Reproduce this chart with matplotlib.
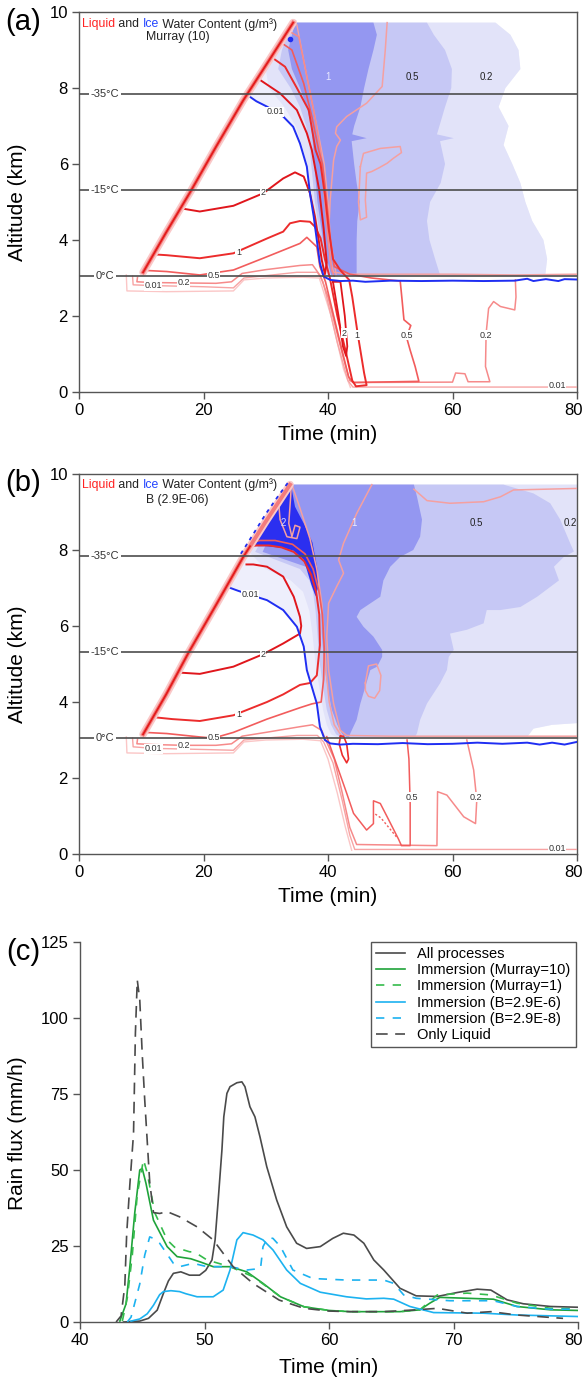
import numpy as np
import matplotlib
matplotlib.use("Agg")
import matplotlib.pyplot as plt
from matplotlib.transforms import offset_copy, ScaledTranslation

plt.rcParams['font.family'] = ['Liberation Sans', 'DejaVu Sans']

# ====================== DATA ======================
TEMP_ALT = [7.83, 5.32, 3.05]
TEMP_LABELS = ['-35°C', '-15°C', '0°C']

# ---------- panel (a): Murray (10) ----------
A_DIAG_T = [10.3, 14.0, 18.0, 22.0, 26.4, 30.5, 34.4]
A_DIAG_Z = [3.15, 4.2, 5.3, 6.45, 7.68, 8.72, 9.72]

A_ICE_LZ = [9.72, 9.0, 8.5, 8.0, 7.5, 7.0, 6.5, 6.0, 5.0, 4.0, 3.5, 3.08]
A_ICE02_LT = [34.0, 32.0, 30.0, 30.5, 33.0, 34.8, 35.8, 36.6, 37.3, 38.3, 38.9, 39.6]
A_ICE05_LT = [34.2, 32.6, 32.0, 34.0, 35.5, 36.5, 37.0, 37.3, 37.9, 38.8, 39.4, 40.0]
A_ICE1_LT = [34.7, 33.6, 34.2, 35.5, 36.6, 37.3, 37.6, 37.8, 38.3, 39.2, 39.8, 40.5]
A_ICE001_LT = [34.4, 30.5, 27.0, 28.5, 30.2, 32.8, 34.4, 35.5, 36.6, 37.1, 37.7, 38.2, 38.7, 39.3, 40.3]
A_ICE001_LZ = [9.72, 8.72, 7.82, 7.65, 7.51, 7.25, 6.98, 6.54, 5.93, 5.23, 4.62, 4.0, 3.39, 3.06, 3.06]

A_ICE1_RZ = [3.08, 3.5, 4.0, 4.5, 5.0, 5.5, 6.0, 6.6, 6.68, 6.78, 7.0, 7.5, 8.0, 8.5, 9.0, 9.4, 9.72]
A_ICE1_RT = [44.6, 44.6, 44.6, 44.7, 45.1, 44.6, 44.2, 43.8, 46.2, 43.9, 44.2, 45.2, 45.8, 46.5, 47.3, 47.85, 47.3]
A_ICE05_RZ = [3.08, 3.5, 4.0, 4.5, 5.0, 5.5, 6.0, 6.6, 6.68, 6.78, 7.0, 7.5, 8.0, 8.5, 9.0, 9.4, 9.72]
A_ICE05_RT = [58.0, 57.2, 56.3, 55.9, 56.4, 58.1, 58.8, 58.0, 60.2, 57.5, 57.9, 58.8, 59.8, 59.9, 58.8, 57.0, 55.9]
A_ICE02_RZ = [3.08, 3.5, 4.0, 4.5, 5.0, 5.5, 6.0, 6.5, 7.0, 7.5, 8.0, 8.5, 9.0, 9.4, 9.72]
A_ICE02_RT = [74.9, 75.2, 74.6, 72.8, 71.7, 70.9, 69.6, 68.2, 69.0, 67.4, 68.5, 70.9, 70.6, 69.3, 66.9]

A_ICE_LINE_T = [27.0, 28.5, 30.2, 32.8, 34.4, 35.5, 36.6, 37.1, 37.7, 38.2, 38.7, 39.3, 40.35,
                42.0, 44.0, 46.0, 50.0, 55.0, 60.0, 65.0, 70.0, 72.0, 73.0, 75.0, 77.0, 78.0, 80.0]
A_ICE_LINE_Z = [7.82, 7.65, 7.51, 7.25, 6.98, 6.54, 5.93, 5.23, 4.62, 4.0, 3.39, 3.04, 2.95,
                2.92, 2.93, 2.9, 2.93, 2.92, 2.93, 2.92, 2.93, 2.98, 2.92, 2.97, 2.92, 2.97, 2.96]
A_ICE_EDGE_T = [30.6, 32.5, 34.8]
A_ICE_EDGE_Z = [8.85, 9.3, 9.78]

A_L2_T = [16.5, 19.4, 24.8, 29.6, 32.8, 34.7, 36.1, 37.1, 37.9, 38.5, 39.0, 39.5, 39.8, 39.3, 38.6,
          37.4, 36.6, 35.0, 32.3, 29.1]
A_L2_Z = [4.83, 4.75, 4.9, 5.23, 5.62, 5.78, 5.67, 5.23, 4.62, 4.0, 3.47, 3.1, 3.4, 4.3, 5.3,
          6.37, 6.81, 7.42, 7.86, 8.21]
A_L2R_T = [40.8, 41.7, 42.4, 42.9, 43.1, 42.7, 42.0, 40.8]
A_L2R_Z = [2.9, 2.0, 1.2, 0.95, 1.2, 2.0, 2.9, 2.9]
A_L1_T = [12.2, 14.1, 19.4, 24.8, 30.2, 32.8, 33.9, 35.5, 37.1, 37.9, 38.8, 39.5, 40.3, 41.5, 42.8,
          43.9, 44.5, 46.2, 45.8, 44.8, 43.9, 43.4, 42.0, 40.8, 40.1, 39.5, 38.8, 38.0, 36.9, 35.0,
          33.1, 31.2]
A_L1_Z = [3.62, 3.6, 3.52, 3.65, 4.04, 4.22, 4.44, 4.5, 4.48, 4.35, 4.05, 3.5, 3.0, 2.0, 1.1,
          0.3, 0.15, 0.18, 0.5, 1.5, 2.5, 2.95, 3.2, 3.5, 4.3, 5.2, 6.0, 6.37, 7.42, 8.0,
          8.56, 8.78]
A_L05_T = [10.6, 14.1, 19.4, 24.8, 30.2, 35.5, 36.6, 38.2, 38.7, 39.6, 41.5, 43.3, 44.0, 54.6, 54.0,
           53.2, 52.6, 53.3, 52.2, 51.9, 51.6, 47.0, 43.5, 41.0, 40.4, 39.8, 39.1, 38.5, 37.4, 36.1,
           34.2, 32.6]
A_L05_Z = [3.2, 3.17, 3.08, 3.21, 3.56, 3.91, 4.07, 3.82, 3.3, 2.9, 1.6, 0.4, 0.25, 0.28, 0.67,
           1.1, 1.45, 1.75, 1.9, 2.42, 2.92, 3.0, 3.1, 3.3, 4.0, 5.0, 6.0, 6.37, 7.25, 8.12,
           9.0, 9.18]
A_L02_T = [9.4, 9.3, 12.0, 16.8, 22.0, 24.5, 26.2, 30.0, 35.5, 37.5, 38.8, 40.0, 42.3, 43.5, 44.2,
           60.0, 60.5, 62.0, 62.5, 66.0, 65.3, 65.4, 65.8, 66.6, 67.7, 70.0, 70.2, 70.1]
A_L02_Z = [3.02, 2.9, 2.88, 2.87, 2.86, 2.9, 3.12, 3.22, 3.33, 3.35, 3.05, 2.5, 1.0, 0.3, 0.25,
           0.26, 0.5, 0.48, 0.27, 0.27, 0.67, 1.54, 2.2, 2.38, 2.25, 2.16, 2.5, 2.95]
A_L001_T = [8.6, 8.7, 12.0, 20.0, 24.8, 26.5, 35.0, 38.3, 39.2, 41.5, 43.2, 44.0, 60.0, 80.0]
A_L001_Z = [3.05, 2.82, 2.8, 2.77, 2.74, 3.0, 3.15, 3.15, 2.9, 1.3, 0.3, 0.13, 0.13, 0.13]
A_LLOW_T = [7.6, 7.7, 14.0, 24.8, 26.5, 30.0, 36.0, 38.6, 40.5, 42.5, 43.6]
A_LLOW_Z = [3.08, 2.66, 2.64, 2.66, 2.95, 3.0, 3.02, 3.0, 2.0, 0.6, 0.12]
A_PD_T = [33.9, 35.3, 36.3, 37.7, 38.8, 39.5, 40.0, 40.6, 41.0]
A_PD_Z = [9.48, 9.35, 8.56, 7.42, 6.37, 5.0, 4.0, 3.2, 3.05]
A_PE_T = [35.0, 36.6, 38.2, 39.4, 40.0, 40.4, 41.3]
A_PE_Z = [9.66, 8.3, 7.0, 6.0, 5.0, 4.0, 3.1]
A_P1_T = [49.5, 49.2, 48.7, 46.2, 43.0, 41.4, 41.2, 42.0, 41.4, 40.9, 40.35, 40.1, 40.35, 40.9, 43.5,
          50.0, 60.0, 70.0, 80.0]
A_P1_Z = [9.72, 9.0, 8.04, 7.6, 7.25, 6.98, 6.81, 6.63, 6.46, 6.1, 5.05, 4.18, 3.47, 3.15, 3.1,
          3.1, 3.1, 3.08, 3.1]
A_P2_T = [45.2, 45.7, 48.4, 51.6, 51.8, 50.5, 49.5, 48.2, 47.0, 46.2, 46.0, 46.2, 45.2, 44.9, 45.1, 45.2]
A_P2_Z = [5.93, 6.28, 6.41, 6.46, 6.3, 6.15, 6.02, 5.9, 5.8, 5.76, 5.05, 4.6, 4.53, 5.0, 5.6, 5.93]

A_LINE_LABELS = ['0.01', '2', '1', '0.5', '0.2', '0.01', '2', '1', '0.5', '0.2', '0.01']
A_LINE_LAB_T = [31.5, 29.6, 25.6, 21.6, 16.8, 11.9, 42.6, 44.7, 52.7, 65.3, 76.8]
A_LINE_LAB_Z = [7.38, 5.24, 3.67, 3.06, 2.87, 2.8, 1.55, 1.5, 1.5, 1.5, 0.16]
A_ICE_LABELS = ['1', '0.5', '0.2']
A_ICE_LAB_T = [40.0, 53.6, 65.5]
A_ICE_LAB_Z = [8.3, 8.3, 8.3]

# ---------- panel (b): B (2.9E-06) ----------
B_DIAG_T = [10.3, 14.0, 17.6, 22.0, 26.4, 30.0, 33.9]
B_DIAG_Z = [3.15, 4.2, 5.3, 6.55, 7.82, 8.75, 9.72]
B_EDGE_T = [26.0, 28.0, 30.0, 32.0, 33.7]
B_EDGE_Z = [7.9, 8.42, 8.95, 9.42, 9.8]

B_ICE_LZ = [9.72, 8.8, 7.95, 7.5, 7.2, 6.9, 6.4, 5.8, 5.0, 4.4, 3.8, 3.4, 3.15, 3.08]
B_ICE02_LT = [34.0, 30.6, 27.3, 30.0, 34.0, 36.0, 37.0, 37.5, 38.0, 38.6, 39.2, 39.8, 40.5, 41.3]
B_ICE05_LT = [34.2, 31.2, 28.3, 35.5, 37.0, 37.6, 38.0, 38.3, 38.7, 39.2, 39.8, 40.5, 41.3, 42.0]
B_ICE1_LT = [34.4, 31.8, 29.5, 37.5, 38.3, 38.6, 38.9, 39.0, 39.4, 39.9, 40.6, 41.5, 42.3, 43.0]
B_ICE001_LT = [33.9, 30.0, 26.4, 24.0, 25.5, 27.5, 30.2, 32.8, 35.0, 36.1, 36.6, 37.4, 38.2, 38.7, 39.5, 40.35]
B_ICE001_LZ = [9.72, 8.75, 7.82, 7.02, 6.93, 6.82, 6.68, 6.42, 5.98, 5.46, 4.84, 4.4, 3.96, 3.35, 3.06, 3.06]
B_ICE02_RZ = [3.08, 3.3, 3.4, 3.45, 9.72]
B_ICE02_RT = [72.0, 73.0, 76.0, 80.5, 80.5]
B_ICE05_RZ = [3.08, 3.18, 3.53, 3.96, 4.49, 4.84, 5.19, 5.37, 5.8, 5.9, 6.07, 6.42, 6.42, 6.5, 6.77,
              7.2, 7.56, 7.82, 7.96, 8.18, 8.8, 9.23, 9.49, 9.72]
B_ICE05_RT = [54.0, 54.3, 54.8, 55.9, 58.0, 59.1, 59.4, 60.2, 59.6, 62.3, 65.0, 65.5, 67.7, 70.9, 73.6,
              77.1, 76.3, 77.9, 79.5, 78.9, 77.3, 75.7, 73.0, 68.2]
B_ICE1_RZ = [3.08, 3.18, 3.53, 3.96, 4.4, 4.84, 4.93, 5.19, 5.37, 5.72, 5.98, 6.24, 6.42, 6.77, 7.2,
             7.56, 7.82, 8.0, 8.35, 8.8, 9.4, 9.72]
B_ICE1_RT = [43.4, 43.6, 44.6, 45.2, 46.0, 46.8, 47.9, 48.7, 48.7, 47.3, 45.7, 44.6, 45.2, 48.4, 48.9,
             50.0, 51.6, 53.7, 54.8, 55.1, 54.3, 53.8]
B_ICE2_T = [33.8, 34.2, 34.7, 36.1, 37.5, 38.3, 38.4, 38.0, 37.3, 36.1, 34.5, 33.0, 30.0, 28.0, 27.3,
            29.0, 31.0, 32.5]
B_ICE2_Z = [9.72, 9.58, 9.14, 8.7, 8.2, 7.5, 7.0, 6.78, 7.1, 7.75, 7.98, 8.05, 8.1, 8.1, 7.95,
            8.45, 9.0, 9.4]

B_ICE_LINE_T = [24.0, 25.5, 27.5, 30.2, 32.8, 35.0, 36.1, 36.6, 37.4, 38.2, 38.7, 39.5, 40.35, 42.0,
                44.0, 48.0, 52.0, 56.0, 60.0, 64.0, 68.0, 72.0, 74.0, 76.0, 78.0, 80.0]
B_ICE_LINE_Z = [7.02, 6.93, 6.82, 6.68, 6.42, 5.98, 5.46, 4.84, 4.4, 3.96, 3.35, 3.0, 2.91, 2.88,
                2.9, 2.89, 2.92, 2.89, 2.9, 2.93, 2.9, 2.93, 2.88, 2.93, 2.88, 2.95]

B_L2_T = [16.5, 19.4, 24.8, 29.6, 32.8, 35.5, 35.7, 35.5, 34.5, 32.8, 30.2, 28.0, 26.9]
B_L2_Z = [4.77, 4.74, 4.93, 5.26, 5.54, 5.8, 6.0, 6.24, 6.77, 7.3, 7.56, 7.62, 7.62]
B_L1_T = [12.0, 15.0, 19.4, 24.8, 30.2, 32.8, 35.5, 37.1, 38.2, 38.7, 38.6, 38.1, 37.3, 36.2, 34.5,
          32.5, 30.5, 28.5, 27.6]
B_L1_Z = [3.6, 3.55, 3.5, 3.65, 4.0, 4.2, 4.45, 4.5, 4.7, 5.5, 6.3, 6.9, 7.35, 7.7, 7.95,
          8.07, 8.12, 8.12, 8.1]
B_L05_T = [10.6, 14.1, 19.4, 21.6, 24.8, 30.2, 35.5, 37.4, 38.9, 39.3, 39.4, 39.1, 38.5, 37.6, 36.3,
           34.3, 31.5, 29.0, 27.8]
B_L05_Z = [3.2, 3.17, 3.08, 3.05, 3.2, 3.55, 3.85, 3.95, 4.0, 4.6, 5.4, 6.3, 6.95, 7.5, 7.9,
           8.15, 8.25, 8.25, 8.2]
B_L05R_T = [39.8, 41.5, 43.0, 44.1, 46.2, 47.3, 47.3, 48.4, 49.5, 51.3, 51.8, 53.2, 53.2, 53.0, 52.7]
B_L05R_Z = [3.09, 2.3, 1.6, 1.07, 0.63, 0.8, 1.4, 1.33, 0.98, 0.4, 0.22, 0.22, 1.33, 2.5, 3.0]
B_L02_T = [9.4, 9.3, 12.0, 16.8, 22.0, 24.5, 26.2, 30.0, 35.5, 37.5, 39.0, 39.5, 41.0, 42.3, 43.5,
           44.6, 57.5, 57.6, 59.1, 61.8, 63.7, 63.9, 63.4, 62.3]
B_L02_Z = [3.02, 2.9, 2.88, 2.86, 2.86, 2.9, 3.1, 3.2, 3.35, 3.4, 3.25, 3.05, 2.5, 1.6, 0.7,
           0.25, 0.22, 1.64, 1.55, 0.98, 0.8, 1.42, 2.21, 3.0]
B_L001_T = [8.6, 8.7, 12.0, 20.0, 24.8, 26.5, 35.0, 38.3, 39.3, 40.8, 42.3, 43.5, 44.3, 60.0, 80.0]
B_L001_Z = [3.05, 2.82, 2.78, 2.75, 2.73, 3.0, 3.12, 3.12, 2.95, 2.4, 1.4, 0.5, 0.12, 0.12, 0.12]
B_LLOW_T = [7.6, 7.7, 14.0, 24.8, 26.5, 30.0, 36.0, 38.8, 40.0, 41.5, 42.8, 43.8]
B_LLOW_Z = [3.08, 2.66, 2.64, 2.66, 2.95, 3.0, 3.02, 2.98, 2.5, 1.6, 0.7, 0.1]
B_LOOP1_T = [42.0, 41.8, 42.3, 43.0, 43.3, 43.0, 42.5, 42.0]
B_LOOP1_Z = [3.1, 2.9, 2.6, 2.4, 2.5, 2.9, 3.1, 3.1]
B_DOT_T = [47.6, 48.5, 49.5, 50.5, 51.0]
B_DOT_Z = [1.05, 0.95, 0.75, 0.55, 0.45]
B_P1_T = [47.05, 44.6, 42.5, 41.7, 42.5, 41.4, 40.1, 39.8, 40.1, 40.9, 41.95, 43.0, 50.0, 60.0, 70.0, 80.0]
B_P1_Z = [9.72, 8.96, 8.18, 7.74, 7.39, 7.04, 6.6, 5.72, 4.84, 3.96, 3.26, 3.12, 3.1, 3.1, 3.1, 3.1]
B_P2_T = [46.0, 46.5, 47.8, 48.5, 48.3, 47.5, 46.5, 46.0, 46.0]
B_P2_Z = [4.5, 4.95, 5.0, 4.7, 4.3, 4.1, 4.15, 4.3, 4.5]
B_PTOP_T = [53.8, 55.9, 59.6, 65.0, 67.7, 69.8, 80.0]
B_PTOP_Z = [9.6, 9.3, 9.23, 9.27, 9.4, 9.58, 9.62]
B_PFING_T = [32.0, 32.3, 33.4, 35.0, 35.5, 34.7, 34.2, 33.7, 34.0, 34.1]
B_PFING_Z = [9.4, 8.8, 8.35, 8.3, 8.6, 8.65, 8.35, 8.7, 9.4, 9.72]
B_PE1_T = [34.2, 35.5, 37.1, 38.2, 39.0, 39.4, 39.7, 40.2, 41.0, 42.2]
B_PE1_Z = [9.72, 9.1, 8.3, 7.5, 6.6, 5.7, 4.8, 4.0, 3.4, 3.1]

B_LINE_LABELS = ['0.01', '2', '1', '0.5', '0.2', '0.01', '0.5', '0.2', '0.01']
B_LINE_LAB_T = [27.5, 29.6, 25.6, 21.6, 16.8, 12.0, 53.4, 63.7, 76.8]
B_LINE_LAB_Z = [6.82, 5.25, 3.67, 3.06, 2.86, 2.77, 1.5, 1.5, 0.15]
B_ICE_LABELS = ['2', '1', '0.5', '0.2']
B_ICE_LAB_T = [32.85, 44.1, 63.9, 78.9]
B_ICE_LAB_Z = [8.7, 8.7, 8.7, 8.7]

# ---------- panel (c): rain flux ----------
C_ALL_T = [43.5, 44.8, 45.5, 46.2, 46.7, 47.1, 47.5, 48.1, 48.8, 49.6, 50.1, 50.6, 50.85, 51.1, 51.4,
           51.55, 51.8, 52.05, 52.6, 53.0, 53.25, 53.65, 54.05, 54.45, 55.0, 55.8, 56.6, 57.4, 58.2,
           59.3, 60.3, 61.15, 62.0, 62.8, 63.6, 64.4, 65.7, 67.0, 68.7, 70.3, 71.9, 73.0, 74.3, 75.6,
           77.8, 80.0]
C_ALL_V = [0.0, 0.3, 1.2, 3.9, 9.4, 13.5, 16.0, 16.5, 15.4, 15.4, 17.0, 20.4, 27.0, 40.1, 56.6,
           67.5, 75.2, 77.4, 78.7, 79.0, 77.4, 70.8, 67.5, 61.0, 51.1, 40.1, 31.3, 25.9, 24.2,
           24.8, 27.5, 29.2, 28.6, 25.9, 20.4, 17.1, 11.1, 8.6, 8.4, 9.7, 10.8, 10.5, 7.3, 6.0,
           5.1, 4.85]
C_M10_T = [43.2, 43.7, 44.0, 44.4, 44.8, 45.0, 45.3, 45.9, 47.0, 47.8, 48.9, 49.7, 50.7, 52.05, 53.4,
           54.7, 56.1, 58.0, 60.0, 61.7, 65.7, 67.3, 68.1, 68.9, 71.1, 73.2, 75.1, 77.8, 80.0]
C_M10_V = [0.3, 6.0, 18.0, 36.0, 50.0, 50.5, 45.6, 33.5, 24.8, 21.5, 20.8, 19.7, 18.2, 18.2, 16.5,
           12.7, 8.3, 5.0, 3.8, 3.4, 3.4, 4.0, 6.2, 8.1, 7.8, 7.5, 5.1, 4.0, 3.8]
C_M1_T = [43.4, 43.8, 44.2, 44.6, 45.1, 45.4, 46.0, 47.0, 47.6, 48.8, 49.2, 50.2, 52.05, 53.9, 56.1,
          58.0, 60.0, 61.7, 65.7, 67.3, 68.0, 68.7, 71.1, 73.0, 75.1, 77.8, 80.0]
C_M1_V = [0.3, 8.0, 22.0, 42.0, 53.4, 49.0, 36.0, 27.0, 24.6, 23.1, 23.0, 20.4, 18.2, 14.9, 8.3,
          5.0, 3.8, 3.4, 3.4, 4.0, 6.5, 8.9, 9.5, 8.9, 6.2, 4.5, 4.3]
C_B6_T = [44.1, 44.8, 45.4, 45.9, 46.4, 46.7, 47.3, 48.0, 48.5, 49.4, 50.7, 51.5, 52.05, 52.6, 53.1,
          53.9, 54.7, 55.5, 56.6, 57.7, 59.3, 61.4, 63.0, 64.4, 65.2, 66.5, 68.4, 72.4, 75.1, 80.0]
C_B6_V = [0.3, 1.0, 2.7, 5.5, 9.0, 10.0, 10.3, 10.0, 9.3, 8.3, 8.3, 10.5, 17.1, 27.0, 29.4,
          28.6, 27.0, 23.7, 17.1, 12.7, 9.8, 8.3, 7.6, 7.8, 7.5, 5.1, 3.1, 2.9, 2.3, 1.8]
C_B8_T = [43.8, 44.1, 44.8, 45.2, 45.6, 45.9, 46.4, 47.5, 48.0, 49.1, 50.2, 52.05, 53.4, 54.5, 54.7,
          55.1, 55.5, 56.1, 57.1, 58.7, 61.4, 64.4, 65.2, 66.0, 67.0, 69.7, 73.2, 75.1, 77.8, 80.0]
C_B8_V = [0.0, 1.6, 12.5, 22.0, 28.0, 27.5, 25.9, 19.3, 18.2, 19.3, 18.2, 18.2, 17.1, 17.6, 24.8,
          27.8, 27.5, 24.8, 17.1, 14.3, 13.8, 13.8, 12.7, 8.9, 7.8, 7.0, 7.0, 5.1, 4.2, 4.2]
C_LIQ_T = [42.9, 43.3, 43.6, 43.75, 44.0, 44.3, 44.45, 44.6, 44.8, 45.0, 45.2, 45.6, 45.9, 46.4, 47.0,
           48.0, 49.4, 50.7, 52.3, 53.9, 56.0, 58.0, 60.0, 61.7, 64.4, 67.0, 68.7, 71.1, 73.0, 75.1, 78.8]
C_LIQ_V = [0.0, 2.0, 12.0, 29.0, 45.0, 62.0, 95.0, 112.5, 106.0, 88.0, 73.0, 46.0, 36.0, 35.7, 36.3,
           34.6, 31.3, 27.0, 18.2, 12.7, 7.2, 4.5, 3.6, 3.4, 3.4, 4.0, 4.5, 2.9, 3.4, 2.3, 1.2]
C_LEGEND = ['All processes', 'Immersion (Murray=10)', 'Immersion (Murray=1)',
            'Immersion (B=2.9E-6)', 'Immersion (B=2.9E-8)', 'Only Liquid']

# ====================== STYLE ======================
C_ICE001, C_ICE02, C_ICE05, C_ICE1, C_ICE2 = '#eeeffc', '#e2e3f9', '#c6c8f5', '#9497f1', '#2b2ff0'
C_L2, C_L1, C_L05, C_L02, C_L001, C_LLOW, C_PINK = ('#e0161c', '#ec2c2c', '#f25c5c', '#f68a8a',
                                                    '#f7a4a4', '#fbc6c6', '#f5a0a0')
C_BLUE = '#1f2ef2'
GREY = '#555555'

fig = plt.figure(figsize=(5.84, 13.79), dpi=100)
W, H = 584.0, 1379.0
ax_a = fig.add_axes([79 / W, 1 - 392 / H, 498 / W, 380 / H])
ax_b = fig.add_axes([79 / W, 1 - 854 / H, 498 / W, 380 / H])
ax_c = fig.add_axes([80 / W, 1 - 1322 / H, 498 / W, 380 / H])


def fill_region(ax, lt, lz, rt, rz, color):
    ax.fill(list(lt) + list(rt), list(lz) + list(rz), color=color, lw=0, zorder=1)


def line(ax, t, z, color, lw=1.0, **kw):
    ax.plot(t, z, color=color, lw=lw, zorder=3, solid_joinstyle='round', **kw)


def draw_diag(ax, t, z, zcut=None):
    t = np.asarray(t); z = np.asarray(z)
    ax.plot(t, z, color='#fac8c8', lw=5.5, zorder=3, solid_capstyle='round')
    ax.plot(t, z, color='#f37c7c', lw=2.8, zorder=3)
    if zcut is not None:
        m = z <= zcut
        tc = np.r_[t[m], np.interp(zcut, z, t)]
        zc = np.r_[z[m], zcut]
    else:
        tc, zc = t, z
    ax.plot(tc, zc, color='#e31a1a', lw=1.3, zorder=3)


def nudge_last_xtick(ax, dx_px=-4):
    ticks = ax.xaxis.get_major_ticks()
    lab = ticks[-1].label1
    lab.set_transform(lab.get_transform() + ScaledTranslation(dx_px / 100.0, 0, fig.dpi_scale_trans))


def setup_alt_axes(ax):
    ax.set_xlim(0, 80)
    ax.set_ylim(0, 10)
    ax.set_xticks([0, 20, 40, 60, 80])
    ax.set_yticks(range(0, 11, 2))
    for sp in ax.spines.values():
        sp.set_color(GREY)
        sp.set_linewidth(1.0)
    ax.tick_params(direction='out', length=5, width=1, color=GREY, labelsize=12, pad=3)
    nudge_last_xtick(ax)
    ax.set_ylabel('Altitude (km)', fontsize=15)
    ax.yaxis.label.set_verticalalignment('center')
    ax.yaxis.set_label_coords(-0.1225, 0.5)
    ax.set_xlabel('Time (min)', fontsize=15)
    ax.xaxis.label.set_verticalalignment('center')
    ax.xaxis.set_label_coords(0.5, -0.112)
    for a, lab in zip(TEMP_ALT, TEMP_LABELS):
        ax.axhline(a, color='#4d4d4d', lw=1.2, zorder=5)
        ax.text(4.1, a, lab, ha='center', va='center', fontsize=8, color='#333333', zorder=6,
                bbox=dict(facecolor='white', edgecolor='none', pad=1.2))


def line_labels(ax, labels, ts, zs):
    for s, t, z in zip(labels, ts, zs):
        ax.text(t, z, s, ha='center', va='center', fontsize=6.5, color='#333333', zorder=7,
                bbox=dict(facecolor='white', edgecolor='none', pad=0.3))


def ice_labels(ax, labels, ts, zs, colors):
    for s, t, z, c in zip(labels, ts, zs, colors):
        ax.text(t, z, s, ha='center', va='center', fontsize=7, color=c, zorder=7, clip_on=True)


def rainbow_title(ax, x, y, parts, size):
    renderer = fig.canvas.get_renderer()
    trans = ax.transAxes
    for s, c in parts:
        txt = ax.text(x, y, s, color=c, transform=trans, fontsize=size, ha='left', va='center', zorder=8)
        txt.draw(renderer)
        ex = txt.get_window_extent(renderer)
        trans = offset_copy(txt.get_transform(), x=ex.width, units='dots')


# ====================== PANEL (a) ======================
ax = ax_a
fill_region(ax, A_ICE001_LT, A_ICE001_LZ, A_ICE02_RT, A_ICE02_RZ, C_ICE001)
fill_region(ax, A_ICE02_LT, A_ICE_LZ, A_ICE02_RT, A_ICE02_RZ, C_ICE02)
fill_region(ax, A_ICE05_LT, A_ICE_LZ, A_ICE05_RT, A_ICE05_RZ, C_ICE05)
fill_region(ax, A_ICE1_LT, A_ICE_LZ, A_ICE1_RT, A_ICE1_RZ, C_ICE1)
line(ax, A_LLOW_T, A_LLOW_Z, C_LLOW, 1.0)
line(ax, A_L001_T, A_L001_Z, C_L001, 1.0)
line(ax, A_PE_T, A_PE_Z, C_L001, 1.0)
line(ax, A_P1_T, A_P1_Z, C_PINK, 1.1)
line(ax, A_P2_T, A_P2_Z, C_PINK, 1.1)
line(ax, A_L02_T, A_L02_Z, C_L02, 1.1)
line(ax, A_PD_T, A_PD_Z, C_L02, 1.1)
line(ax, A_L05_T, A_L05_Z, C_L05, 1.2)
line(ax, A_L1_T, A_L1_Z, C_L1, 1.4)
line(ax, A_L2_T, A_L2_Z, C_L2, 1.4)
line(ax, A_L2R_T, A_L2R_Z, C_L2, 1.3)
line(ax, A_ICE_LINE_T, A_ICE_LINE_Z, C_BLUE, 1.4)
ax.plot(A_ICE_EDGE_T, A_ICE_EDGE_Z, color=C_BLUE, lw=1.2, dashes=(2, 3), zorder=3)
draw_diag(ax, A_DIAG_T, A_DIAG_Z)
ax.plot([33.9], [9.28], 'o', color=C_BLUE, ms=3, zorder=4)
setup_alt_axes(ax)
line_labels(ax, A_LINE_LABELS, A_LINE_LAB_T, A_LINE_LAB_Z)
ice_labels(ax, A_ICE_LABELS, A_ICE_LAB_T, A_ICE_LAB_Z, ['#e8e8ff', '#222222', '#222222'])

# ====================== PANEL (b) ======================
ax = ax_b
fill_region(ax, B_ICE001_LT, B_ICE001_LZ, B_ICE02_RT, B_ICE02_RZ, C_ICE001)
fill_region(ax, B_ICE02_LT, B_ICE_LZ, B_ICE02_RT, B_ICE02_RZ, C_ICE02)
fill_region(ax, B_ICE05_LT, B_ICE_LZ, B_ICE05_RT, B_ICE05_RZ, C_ICE05)
fill_region(ax, B_ICE1_LT, B_ICE_LZ, B_ICE1_RT, B_ICE1_RZ, C_ICE1)
ax.fill(B_ICE2_T, B_ICE2_Z, color=C_ICE2, lw=0, zorder=1)
line(ax, B_LLOW_T, B_LLOW_Z, C_LLOW, 1.0)
line(ax, B_L001_T, B_L001_Z, C_L001, 1.0)
line(ax, B_P1_T, B_P1_Z, C_PINK, 1.1)
line(ax, B_P2_T, B_P2_Z, C_PINK, 1.1)
line(ax, B_PTOP_T, B_PTOP_Z, C_PINK, 1.1)
line(ax, B_PFING_T, B_PFING_Z, C_PINK, 1.1)
line(ax, B_PE1_T, B_PE1_Z, C_PINK, 1.1)
line(ax, B_L02_T, B_L02_Z, C_L02, 1.1)
line(ax, B_L05R_T, B_L05R_Z, C_L05, 1.1)
ax.plot(B_DOT_T, B_DOT_Z, color=C_L05, lw=1.0, dashes=(1.5, 1.5), zorder=3)
line(ax, B_L05_T, B_L05_Z, C_L05, 1.2)
line(ax, B_L1_T, B_L1_Z, C_L1, 1.4)
line(ax, B_LOOP1_T, B_LOOP1_Z, C_L1, 1.2)
line(ax, B_L2_T, B_L2_Z, C_L2, 1.4)
line(ax, B_ICE_LINE_T, B_ICE_LINE_Z, C_BLUE, 1.4)
draw_diag(ax, B_DIAG_T, B_DIAG_Z, zcut=8.1)
ax.plot(B_EDGE_T, B_EDGE_Z, color=C_BLUE, lw=1.3, dashes=(2, 2.5), zorder=4)
setup_alt_axes(ax)
line_labels(ax, B_LINE_LABELS, B_LINE_LAB_T, B_LINE_LAB_Z)
ice_labels(ax, B_ICE_LABELS, B_ICE_LAB_T, B_ICE_LAB_Z, ['#d8d8ff', '#f0f0ff', '#222222', '#222222'])

# titles inside (a) and (b)
rainbow_title(ax_a, 0.006, 0.968, [('Liquid', '#ff2222'), (' and ', '#222222'), ('Ice', '#2244ff'),
                                    (' Water Content (g/m³)', '#222222')], 8.8)
ax_a.text(0.199, 0.934, 'Murray (10)', transform=ax_a.transAxes, ha='center', va='center',
          fontsize=8.8, color='#222222', zorder=8)
rainbow_title(ax_b, 0.006, 0.971, [('Liquid', '#ff2222'), (' and ', '#222222'), ('Ice', '#2244ff'),
                                    (' Water Content (g/m³)', '#222222')], 8.8)
ax_b.text(0.197, 0.932, 'B (2.9E-06)', transform=ax_b.transAxes, ha='center', va='center',
          fontsize=8.8, color='#222222', zorder=8)

# ====================== PANEL (c) ======================
ax = ax_c
kw = dict(lw=1.2, zorder=3, solid_joinstyle='round')
ax.plot(C_ALL_T, C_ALL_V, color='#4a4a4a', label=C_LEGEND[0], **kw)
ax.plot(C_M10_T, C_M10_V, color='#1fa33a', label=C_LEGEND[1], **kw)
ax.plot(C_M1_T, C_M1_V, color='#35bb4c', dashes=(5, 5), label=C_LEGEND[2], **kw)
ax.plot(C_B6_T, C_B6_V, color='#1cb2f0', label=C_LEGEND[3], **kw)
ax.plot(C_B8_T, C_B8_V, color='#1cb2f0', dashes=(5, 5), label=C_LEGEND[4], **kw)
ax.plot(C_LIQ_T, C_LIQ_V, color='#4a4a4a', dashes=(7, 4.5), label=C_LEGEND[5], **kw)
ax.set_xlim(40, 80)
ax.set_ylim(0, 125)
ax.set_xticks([40, 50, 60, 70, 80])
ax.set_yticks([0, 25, 50, 75, 100, 125])
for s in ['top', 'right']:
    ax.spines[s].set_visible(False)
for s in ['left', 'bottom']:
    ax.spines[s].set_color(GREY)
    ax.spines[s].set_linewidth(1.0)
ax.tick_params(direction='out', length=5, width=1, color=GREY, labelsize=12, pad=3)
nudge_last_xtick(ax, -5)
ax.set_ylabel('Rain flux (mm/h)', fontsize=15)
ax.yaxis.label.set_verticalalignment('center')
ax.yaxis.set_label_coords(-0.1245, 0.497)
ax.set_xlabel('Time (min)', fontsize=15)
ax.xaxis.label.set_verticalalignment('center')
ax.xaxis.set_label_coords(0.5, -0.121)
leg = ax.legend(loc='upper right', bbox_to_anchor=(0.995, 1.0), borderaxespad=0, fontsize=10.5,
                frameon=True, fancybox=False, framealpha=1, edgecolor=GREY, borderpad=0.35,
                labelspacing=0.15, handlelength=2.0, handletextpad=0.8)
leg.get_frame().set_linewidth(1.0)

# panel letters
fig.text(5 / W, 1 - 22 / H, '(a)', fontsize=21, ha='left', va='center')
fig.text(5 / W, 1 - 483 / H, '(b)', fontsize=21, ha='left', va='center')
fig.text(6 / W, 1 - 952 / H, '(c)', fontsize=21, ha='left', va='center')

fig.savefig('out.png', dpi=100)
